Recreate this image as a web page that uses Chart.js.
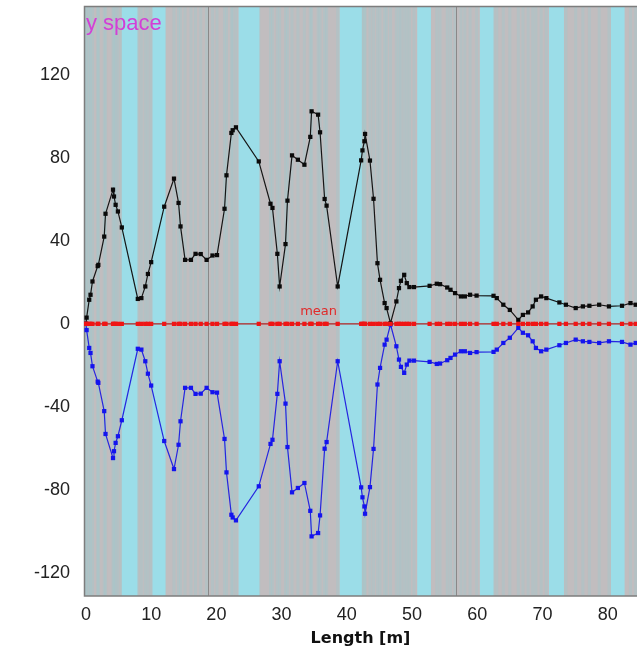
<!DOCTYPE html>
<html>
<head>
<meta charset="utf-8">
<script src="https://cdn.jsdelivr.net/npm/chart.js@4.4.1/dist/chart.umd.min.js"></script>
<style>
  html, body { margin: 0; padding: 0; background: #ffffff; }
  #wrap { width: 641px; height: 648px; }
</style>
</head>
<body>
<div id="wrap"><canvas id="chart" width="641" height="648"></canvas></div>
<script>
// Positions along the profile [m]
const lengthM = [
    0.0, 0.1, 0.5, 0.7, 1.0, 1.8, 1.9, 2.8, 3.0, 4.15, 4.3, 4.55, 4.9, 5.5,
    7.95, 8.5, 9.1, 9.5, 10.0, 12.0, 13.5, 14.2, 14.5, 15.2, 16.1, 16.8, 17.6,
    18.5, 19.4, 20.1, 21.25, 21.55, 22.3, 22.5, 23.0, 26.5, 28.3, 28.6, 29.35,
    29.7, 30.6, 30.9, 31.6, 32.5, 33.5, 34.4, 34.6, 35.6, 35.9, 36.6, 36.9,
    38.6, 42.2, 42.4, 42.7, 42.8, 43.55, 44.1, 44.7, 45.1, 45.8, 46.1, 46.7,
    47.6, 48.0, 48.3, 48.8, 49.2, 49.6, 50.3, 52.7, 53.8, 54.3, 55.4, 55.9,
    56.6, 57.5, 58.1, 58.9, 59.9, 62.5, 63.0, 64.0, 65.0, 66.3, 67.0, 67.8,
    68.5, 69.0, 69.8, 70.6, 72.6, 73.6, 75.1, 76.2, 77.2, 78.7, 80.2, 82.2,
    83.5, 84.3
];

// upper envelope (black)
const upperVals = [
    0, 3, 11.6, 14, 20.4, 27.8, 28.4, 42, 53, 64.6, 61.3, 57.3, 54.1, 46.4,
    12, 12.4, 18, 24, 29.7, 56.4, 69.9, 58.2, 46.9, 30.8, 30.8, 33.7, 33.6,
    30.8, 32.9, 33.1, 55.4, 71.5, 91.9, 93.2, 94.6, 78.2, 57.8, 55.8, 33.7,
    18, 38.4, 59.3, 81.1, 79, 76.6, 90, 102.3, 100.7, 92.2, 60.1, 56.9,
    18, 78.7, 83.5, 87.9, 91.4, 78.6, 60.2, 29.2, 21.2, 10, 7.6, 0.3,
    10.8, 17.2, 20.7, 23.6, 19.6, 17.7, 17.7, 18.3, 19.3, 19.1, 17.5, 16.4,
    14.8, 13.2, 13.2, 14, 13.6, 13.5, 12.4, 9.2, 6.7, 1.9, 4.3, 5.5,
    8.4, 11.6, 13.2, 12.4, 10.3, 9.2, 7.6, 8.4, 8.7, 9.2, 8.4, 8.7,
    10, 9.2
];

// lower envelope (blue)
const lowerVals = [
    0, -3, -11.6, -14, -20.4, -27.8, -28.4, -42, -53, -64.6, -61.3, -57.3, -54.1, -46.4,
    -12, -12.4, -18, -24, -29.7, -56.4, -69.9, -58.2, -46.9, -30.8, -30.8, -33.7, -33.6,
    -30.8, -32.9, -33.1, -55.4, -71.5, -91.9, -93.2, -94.6, -78.2, -57.8, -55.8, -33.7,
    -18, -38.4, -59.3, -81.1, -79, -76.6, -90, -102.3, -100.7, -92.2, -60.1, -56.9,
    -18, -78.7, -83.5, -87.9, -91.4, -78.6, -60.2, -29.2, -21.2, -10, -7.6, -0.3,
    -10.8, -17.2, -20.7, -23.6, -19.6, -17.7, -17.7, -18.3, -19.3, -19.1, -17.5, -16.4,
    -14.8, -13.2, -13.2, -14, -13.6, -13.5, -12.4, -9.2, -6.7, -1.9, -4.3, -5.5,
    -8.4, -11.6, -13.2, -12.4, -10.3, -9.2, -7.6, -8.4, -8.7, -9.2, -8.4, -8.7,
    -10, -9.2
];

// mean line (red)
const meanVals = lengthM.map(() => 0);

// background bands [m]
const cyanStart = [5.5, 10.2, 23.4, 38.9, 50.8, 60.4, 71.0, 80.5];
const cyanEnd   = [7.9, 12.2, 26.6, 42.3, 52.9, 62.5, 73.3, 82.6];
const segmentMarks = [18.7, 56.8];

const xTicks = [0, 10, 20, 30, 40, 50, 60, 70, 80];
const yTicks = [-120, -80, -40, 0, 40, 80, 120];

function toPoints(ys) {
    return lengthM.map((x, i) => ({ x: x, y: ys[i] }));
}

// background: grey with cyan bands and thin stripes
const bandsPlugin = {
    id: 'bands',
    beforeDatasetsDraw(chart) {
        const { ctx, chartArea: a, scales: { x } } = chart;
        ctx.save();
        ctx.beginPath();
        ctx.rect(a.left, a.top, a.right - a.left, a.bottom - a.top);
        ctx.clip();
        ctx.fillStyle = '#c1bdbf';
        ctx.fillRect(a.left, a.top, a.right - a.left, a.bottom - a.top);

        // faint stripes at each measurement position
        ctx.fillStyle = 'rgba(160, 200, 204, 0.4)';
        lengthM.forEach(m => {
            const px = x.getPixelForValue(m);
            ctx.fillRect(px - 1.5, a.top, 3, a.bottom - a.top);
        });

        ctx.fillStyle = '#9bdde8';
        cyanStart.forEach((s, i) => {
            const x0 = x.getPixelForValue(s);
            const x1 = x.getPixelForValue(cyanEnd[i]);
            ctx.fillRect(x0, a.top, x1 - x0, a.bottom - a.top);
        });

        ctx.strokeStyle = '#8a8888';
        ctx.lineWidth = 1;
        segmentMarks.forEach(m => {
            const px = Math.round(x.getPixelForValue(m)) + 0.5;
            ctx.beginPath();
            ctx.moveTo(px, a.top);
            ctx.lineTo(px, a.bottom);
            ctx.stroke();
        });
        ctx.restore();

        // frame
        ctx.save();
        ctx.strokeStyle = '#7d7d7d';
        ctx.lineWidth = 1.5;
        ctx.beginPath();
        ctx.moveTo(a.right, a.top + 0.5);
        ctx.lineTo(a.left + 0.5, a.top + 0.5);
        ctx.lineTo(a.left + 0.5, a.bottom);
        ctx.lineTo(a.right, a.bottom);
        ctx.stroke();
        ctx.restore();
    },
    afterDatasetsDraw(chart) {
        const { ctx, chartArea: a, scales: { x, y } } = chart;
        ctx.save();
        ctx.font = '22px "Liberation Sans", Arial, sans-serif';
        ctx.fillStyle = '#d33fd6';
        ctx.textAlign = 'left';
        ctx.textBaseline = 'middle';
        ctx.fillText('y space', a.left + 2, 24);

        ctx.font = '13px "DejaVu Sans", sans-serif';
        ctx.fillStyle = '#e02a2a';
        ctx.textBaseline = 'bottom';
        ctx.fillText('mean', x.getPixelForValue(32.85), y.getPixelForValue(2.6));
        ctx.restore();
    }
};

const ctx = document.getElementById('chart').getContext('2d');
const chart = new Chart(ctx, {
    type: 'scatter',
    data: {
        datasets: [
            {
                label: 'mean',
                data: toPoints(meanVals),
                showLine: true,
                borderColor: '#b02020',
                borderWidth: 1.2,
                backgroundColor: '#f01515',
                pointStyle: 'rect',
                pointRadius: 3,
                pointBorderWidth: 0
            },
            {
                label: 'upper',
                data: toPoints(upperVals),
                showLine: true,
                borderColor: '#151515',
                borderWidth: 1.2,
                backgroundColor: '#0a0a0a',
                pointStyle: 'rect',
                pointRadius: 3,
                pointBorderWidth: 0
            },
            {
                label: 'lower',
                data: toPoints(lowerVals),
                showLine: true,
                borderColor: '#2525e0',
                borderWidth: 1.2,
                backgroundColor: '#1414ee',
                pointStyle: 'rect',
                pointRadius: 3,
                pointBorderWidth: 0
            }
        ]
    },
    options: {
        responsive: false,
        animation: false,
        layout: { padding: { top: 6, right: 0, left: 0, bottom: 0 } },
        plugins: {
            legend: { display: false },
            tooltip: { enabled: false }
        },
        scales: {
            x: {
                type: 'linear',
                min: -0.3,
                max: 84.5,
                afterBuildTicks: axis => { axis.ticks = xTicks.map(v => ({ value: v })); },
                afterFit: axis => {
                    axis.height = 52;
                    axis.paddingLeft = 0;
                    axis.paddingRight = 0;
                },
                grid: { display: false },
                border: { display: false },
                ticks: {
                    padding: 0,
                    color: '#222',
                    font: { family: '"Liberation Sans", Arial, sans-serif', size: 18 },
                    maxRotation: 0
                },
                title: {
                    display: true,
                    text: 'Length [m]',
                    color: '#111',
                    padding: 0,
                    font: { family: '"DejaVu Sans", sans-serif', size: 16, weight: 'bold' }
                }
            },
            y: {
                type: 'linear',
                min: -131,
                max: 153,
                afterBuildTicks: axis => { axis.ticks = yTicks.map(v => ({ value: v })); },
                afterFit: axis => {
                    axis.width = 84;
                    axis.paddingTop = 0;
                    axis.paddingBottom = 0;
                },
                grid: { display: false },
                border: { display: false },
                ticks: {
                    padding: 6,
                    color: '#222',
                    font: { family: '"Liberation Sans", Arial, sans-serif', size: 18 }
                }
            }
        }
    },
    plugins: [bandsPlugin]
});
</script>
</body>
</html>
